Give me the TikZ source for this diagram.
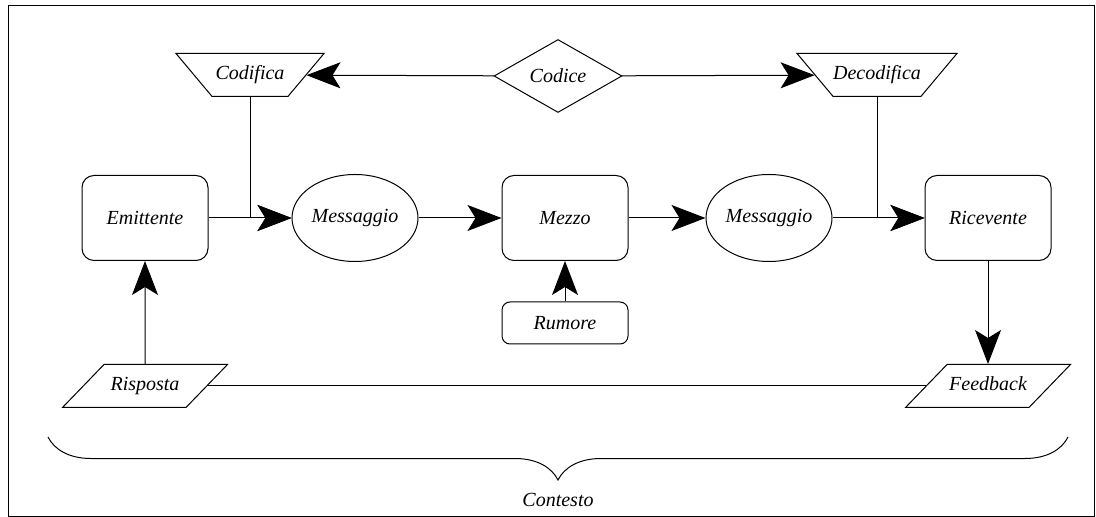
\documentclass[tikz,border=0pt]{standalone}
\usepackage{fontspec}
\setmainfont{Liberation Serif}
\usetikzlibrary{arrows.meta,shapes.geometric,decorations.pathreplacing}

\begin{document}
\begin{tikzpicture}[x=0.5pt,y=-0.5pt,>={Stealth[length=17pt,width=13pt,inset=4pt]},
    line width=0.5pt,font=\rmfamily\itshape,node distance=105pt,
    box/.style={draw,rounded corners=6pt,minimum width=63pt,minimum height=42.5pt},
    msg/.style={draw,ellipse,minimum width=63pt,minimum height=43.5pt,inner sep=0pt},
    coder/.style={draw,trapezium,shape border rotate=180,trapezium left angle=50,
      trapezium right angle=50,text height=7pt,text depth=2pt,inner xsep=0pt,
      inner ysep=6.25pt,minimum width=74pt,trapezium stretches body=true},
    io/.style={draw,trapezium,trapezium left angle=46,trapezium right angle=134,
      text height=7pt,text depth=2pt,inner xsep=0pt,inner ysep=6.25pt,
      minimum width=82.5pt,trapezium stretches body=true}]
    \useasboundingbox (0,0) rectangle (1096,517);
    \draw (8,6) rectangle (1094,516);

    \node[box] (em) at (145,218) {Emittente};
    \node[msg] (m1) [right of=em] {Messaggio};
    \node[box] (mz) [right of=m1] {Mezzo};
    \node[msg] (m2) [right of=mz,node distance=102pt] {Messaggio};
    \node[box] (ric) [right of=m2,node distance=109.5pt] {Ricevente};
    \node[box,minimum height=21pt,rounded corners=4pt] (rum) [below of=mz,node distance=52.5pt] {Rumore};
    \node[io] (risp) [below of=em,node distance=84pt] {Risposta};
    \node[io] (feed) [below of=ric,node distance=84pt] {Feedback};
    \node[coder] (cod) at (250,75) {Codifica};
    \node[draw,diamond,minimum width=64pt,minimum height=36.5pt,inner sep=0pt] (codice) at (558,76) {Codice};
    \node[coder] (dec) at (877,75) {Decodifica};

    \path[->] (em) edge (m1)
          (m1) edge (mz)
          (mz) edge (m2)
          (m2) edge (ric)
          (codice) edge (cod)
          (codice) edge (dec)
          (rum) edge (mz)
          (risp) edge (em)
          (ric) edge (feed);
    \draw[->] (cod) |- (m1);
    \draw[->] (dec) |- (ric);
    \draw (risp) -- (feed);

    % contesto
    \draw[decorate,decoration={brace,mirror,amplitude=21.5pt}] (48,437) -- (1068,437);
    \node (ctx) at (558,500) {Contesto};
\end{tikzpicture}
\end{document}
